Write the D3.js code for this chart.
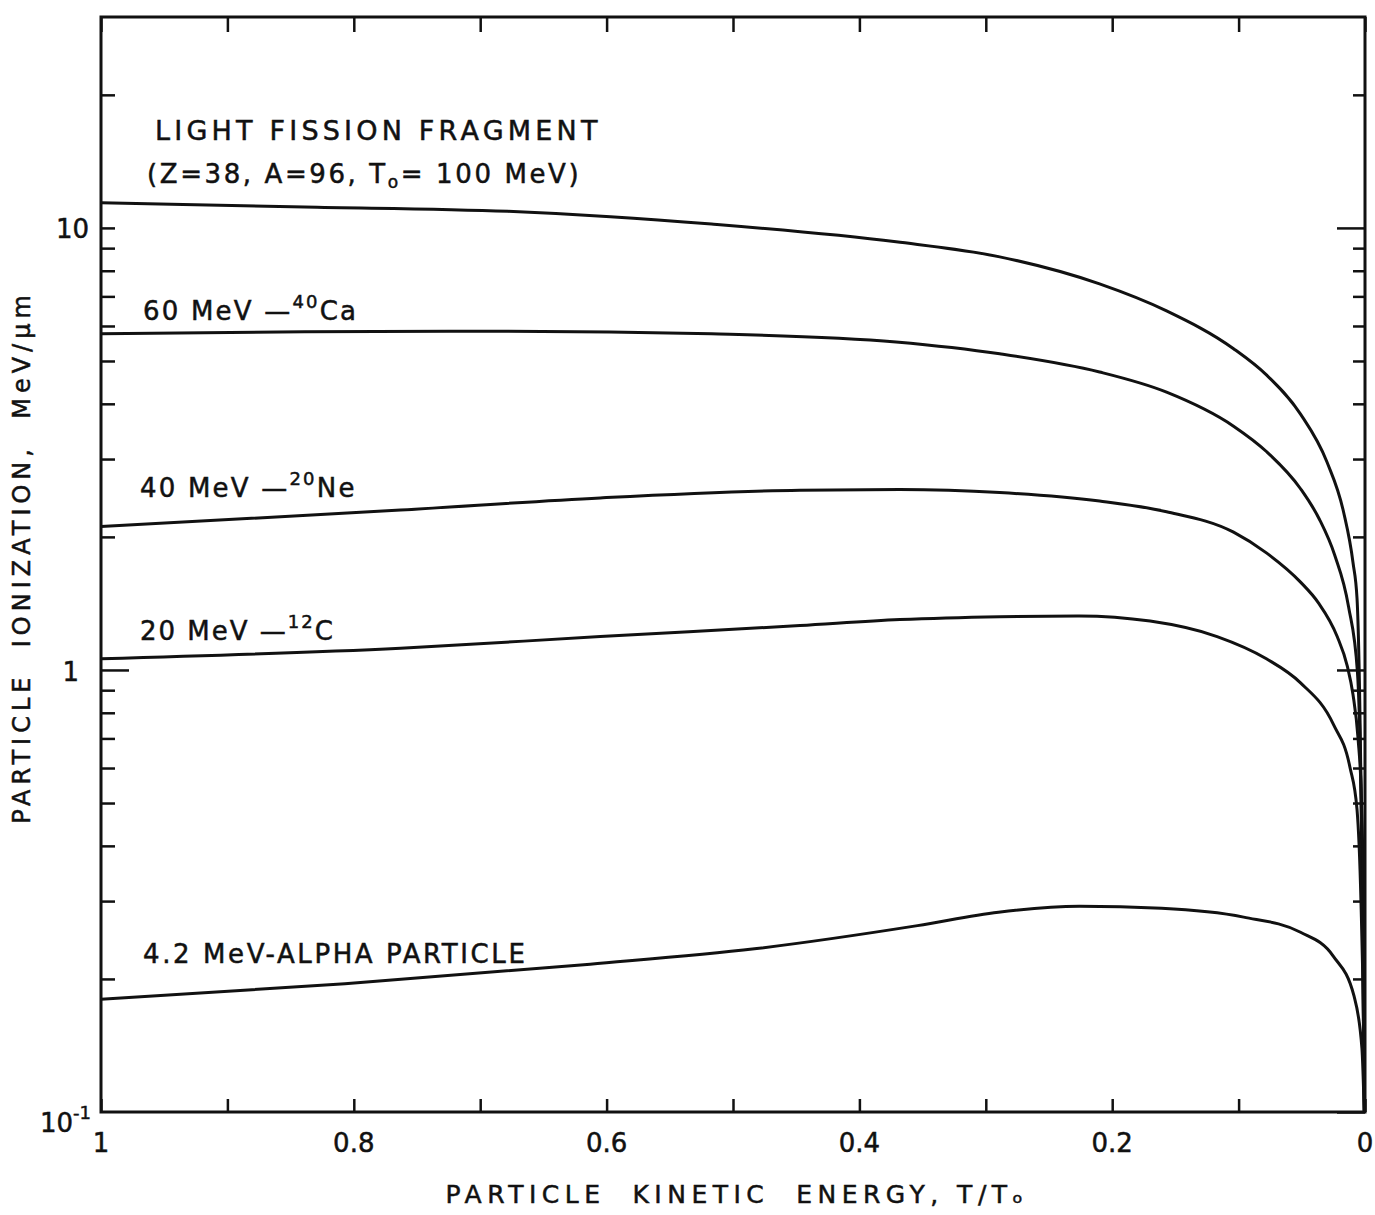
<!DOCTYPE html>
<html>
<head>
<meta charset="utf-8">
<script src="https://cdn.jsdelivr.net/npm/d3@7"></script>
<style>
  body { margin: 0; background: #fff; }
  svg text { font-family: "DejaVu Sans", sans-serif; fill: #111; stroke: #111; stroke-width: 0.5; }
</style>
</head>
<body>
<svg id="chart" width="1375" height="1215"></svg>
<script>
// T/To values (left = 1, right = 0)
var fissionT  = [1, 0.839, 0.678, 0.597, 0.517, 0.371, 0.289, 0.210, 0.157, 0.104, 0.078, 0.051, 0.030, 0.017, 0.0095, 0.0063, 0.0032, 0.0016, 0.0006];
var fissionV  = [11.4, 11.15, 10.9, 10.6, 10.2, 9.3, 8.6, 7.47, 6.49, 5.33, 4.65, 3.79, 2.95, 2.28, 1.75, 1.45, 0.55, 0.2, 0.1];

var calciumT  = [1, 0.839, 0.678, 0.517, 0.371, 0.289, 0.210, 0.157, 0.104, 0.078, 0.051, 0.036, 0.024, 0.013, 0.006, 0.003, 0.0012, 0.0005];
var calciumV  = [5.76, 5.82, 5.84, 5.76, 5.52, 5.19, 4.72, 4.25, 3.56, 3.12, 2.57, 2.19, 1.82, 1.39, 0.99, 0.5, 0.2, 0.1];

var neonT     = [1, 0.763, 0.605, 0.447, 0.368, 0.289, 0.210, 0.157, 0.104, 0.078, 0.051, 0.037, 0.022, 0.014, 0.0095, 0.0055, 0.0028, 0.0012, 0.0004];
var neonV     = [2.11, 2.30, 2.45, 2.55, 2.56, 2.52, 2.41, 2.28, 2.05, 1.84, 1.58, 1.42, 1.19, 1.02, 0.88, 0.70, 0.51, 0.28, 0.1];

var carbonT   = [1, 0.763, 0.605, 0.447, 0.368, 0.289, 0.226, 0.170, 0.117, 0.078, 0.051, 0.025, 0.012, 0.0063, 0.0032, 0.0012, 0.0004];
var carbonV   = [1.06, 1.12, 1.19, 1.26, 1.30, 1.32, 1.325, 1.29, 1.19, 1.06, 0.935, 0.753, 0.604, 0.483, 0.30, 0.16, 0.1];

var alphaT    = [1, 0.807, 0.613, 0.483, 0.354, 0.290, 0.226, 0.161, 0.096, 0.051, 0.025, 0.0087, 0.0024, 0.0006];
var alphaV    = [0.180, 0.195, 0.216, 0.234, 0.264, 0.283, 0.292, 0.289, 0.276, 0.255, 0.225, 0.183, 0.139, 0.1];

var xTicks      = [1, 0.9, 0.8, 0.7, 0.6, 0.5, 0.4, 0.3, 0.2, 0.1, 0];
var xTickLabels = ["1", "0.8", "0.6", "0.4", "0.2", "0"];
var xLabelVals  = [1, 0.8, 0.6, 0.4, 0.2, 0];
var yMajor      = [0.1, 1, 10];
var yMinor      = [0.2, 0.3, 0.4, 0.5, 0.6, 0.7, 0.8, 0.9, 2, 3, 4, 5, 6, 7, 8, 9, 20];

(function() {
  var svg = d3.select("#chart");
  var mLeft = 101, mRight = 1365, mTop = 17, mBottom = 1112;

  var x = d3.scaleLinear().domain([1, 0]).range([mLeft, mRight]);
  var y = d3.scaleLog().domain([0.1, 30]).range([mBottom, mTop]);

  function pairs(ts, vs) { return ts.map(function(t, i) { return [t, vs[i]]; }); }

  var series = [
    pairs(fissionT, fissionV),
    pairs(calciumT, calciumV),
    pairs(neonT, neonV),
    pairs(carbonT, carbonV),
    pairs(alphaT, alphaV)
  ];

  svg.append("clipPath").attr("id", "plotclip")
    .append("rect").attr("x", mLeft).attr("y", mTop)
    .attr("width", mRight - mLeft).attr("height", mBottom - mTop);

  // pixel x grows as T falls, so monotoneX keeps the bends smooth
  var line = d3.line()
    .x(function(d) { return x(d[0]); })
    .y(function(d) { return y(d[1]); })
    .curve(d3.curveMonotoneX);

  svg.append("g").attr("clip-path", "url(#plotclip)")
    .selectAll("path").data(series).enter().append("path")
    .attr("d", line)
    .attr("fill", "none")
    .attr("stroke", "#111")
    .attr("stroke-width", 3);

  // axes, all ticks pointing inward
  function styleAxis(g) {
    g.select(".domain").remove();
    g.selectAll(".tick line").attr("stroke", "#111").attr("stroke-width", 2.5);
    g.selectAll(".tick text").remove();
  }

  svg.append("g").attr("transform", "translate(0," + mBottom + ")")
    .call(d3.axisBottom(x).tickValues(xTicks).tickSize(-13).tickFormat(""))
    .call(styleAxis);
  svg.append("g").attr("transform", "translate(0," + mTop + ")")
    .call(d3.axisTop(x).tickValues(xTicks).tickSize(-15).tickFormat(""))
    .call(styleAxis);

  svg.append("g").attr("transform", "translate(" + mLeft + ",0)")
    .call(d3.axisLeft(y).tickValues([1]).tickSize(-28).tickFormat(""))
    .call(styleAxis);
  svg.append("g").attr("transform", "translate(" + mLeft + ",0)")
    .call(d3.axisLeft(y).tickValues(yMinor.concat([10])).tickSize(-14).tickFormat(""))
    .call(styleAxis);
  svg.append("g").attr("transform", "translate(" + mRight + ",0)")
    .call(d3.axisRight(y).tickValues(yMajor).tickSize(-28).tickFormat(""))
    .call(styleAxis);
  svg.append("g").attr("transform", "translate(" + mRight + ",0)")
    .call(d3.axisRight(y).tickValues(yMinor).tickSize(-12).tickFormat(""))
    .call(styleAxis);

  // frame
  svg.append("rect")
    .attr("x", mLeft).attr("y", mTop)
    .attr("width", mRight - mLeft).attr("height", mBottom - mTop)
    .attr("fill", "none").attr("stroke", "#111").attr("stroke-width", 3);

  // x tick labels
  svg.selectAll(".xlab").data(xLabelVals).enter().append("text")
    .attr("class", "xlab")
    .attr("x", function(d) { return x(d); })
    .attr("y", mBottom + 40)
    .attr("text-anchor", "middle")
    .attr("font-size", 26)
    .text(function(d, i) { return xTickLabels[i]; });

  // y tick labels
  svg.append("text").attr("x", mLeft - 12).attr("y", y(10) + 10)
    .attr("text-anchor", "end").attr("font-size", 26).text("10");
  svg.append("text").attr("x", mLeft - 22).attr("y", y(1) + 11)
    .attr("text-anchor", "end").attr("font-size", 26).text("1");
  var tenth = svg.append("text").attr("x", mLeft - 10).attr("y", y(0.1) + 20)
    .attr("text-anchor", "end").attr("font-size", 26);
  tenth.append("tspan").text("10");
  tenth.append("tspan").attr("dy", -13).attr("font-size", 18).text("-1");

  // axis titles
  svg.append("text")
    .attr("x", 737).attr("y", 1203)
    .attr("text-anchor", "middle")
    .attr("font-size", 25)
    .attr("letter-spacing", 5.5)
    .attr("xml:space", "preserve")
    .text("PARTICLE  KINETIC  ENERGY, T/T\u2092");

  svg.append("text")
    .attr("transform", "translate(30,557) rotate(-90)")
    .attr("text-anchor", "middle")
    .attr("font-size", 24)
    .attr("letter-spacing", 5)
    .attr("xml:space", "preserve")
    .text("PARTICLE  IONIZATION,  MeV/\u03bcm");

  // curve annotations
  function label(xp, yp, parts, size, spacing) {
    var t = svg.append("text").attr("x", xp).attr("y", yp)
      .attr("font-size", size).attr("letter-spacing", spacing);
    parts.forEach(function(p) {
      var s = t.append("tspan").text(p.s);
      if (p.sup) s.attr("dy", -12).attr("font-size", 18);
      if (p.sub) s.attr("dy", 5).attr("font-size", 17);
      if (p.back) s.attr("dy", p.back);
    });
    return t;
  }

  label(155, 140, [{s: "LIGHT FISSION FRAGMENT"}], 27, 4.2);
  label(147, 183, [{s: "(Z=38, A=96, T"}, {s: "o", sub: true}, {s: "= 100 MeV)", back: -5}], 26, 2.6);
  label(143, 320, [{s: "60 MeV \u2014"}, {s: "40", sup: true}, {s: "Ca", back: 12}], 26, 2.2);
  label(140, 497, [{s: "40 MeV \u2014"}, {s: "20", sup: true}, {s: "Ne", back: 12}], 26, 2.2);
  label(140, 640, [{s: "20 MeV \u2014"}, {s: "12", sup: true}, {s: "C", back: 12}], 26, 2.0);
  label(143, 963, [{s: "4.2 MeV-ALPHA PARTICLE"}], 26, 2.6);
})();
</script>
</body>
</html>
